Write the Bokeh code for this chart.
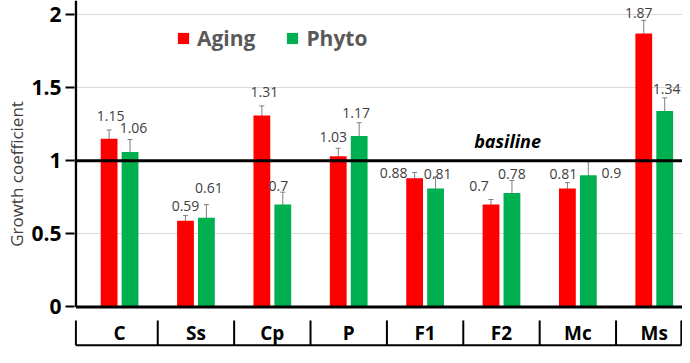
from bokeh.plotting import figure
from bokeh.models import (Range1d, FixedTicker, Span, Whisker, ColumnDataSource,
                          Label, Legend, LegendItem, TeeHead, CustomJSTickFormatter)
from bokeh.embed import file_html
from bokeh.resources import INLINE
from bokeh.core.properties import value

# ---------------- data ----------------
categories = ["C", "Ss", "Cp", "P", "F1", "F2", "Mc", "Ms"]
aging = [1.15, 0.59, 1.31, 1.03, 0.88, 0.70, 0.81, 1.87]
phyto = [1.06, 0.61, 0.70, 1.17, 0.81, 0.78, 0.90, 1.34]
aging_err = [0.06, 0.035, 0.065, 0.055, 0.04, 0.035, 0.04, 0.09]
phyto_err = [0.085, 0.09, 0.085, 0.09, 0.08, 0.085, 0.10, 0.09]
y_ticks = [0, 0.5, 1, 1.5, 2]
baseline_value = 1
series_names = ["Aging", "Phyto"]

# ---------------- layout / style ----------------
RED = "#FF0000"
GREEN = "#00B050"
FONT = "Open Sans"
# value-label nudges (screen px) relative to bar top, as in the source chart
aging_label_dx = [1.5, 0, 2.5, -5, -21, -12, -4, -5]
aging_label_dy = [-23, -15, -23, -19, -5, -19, -15, -21]
phyto_label_dx = [3.5, 2.5, -4.5, -3, 2, 0, 23, 2]
phyto_label_dy = [-23.5, -30, -19, -23, -15, -19, -2, -22]

x_start, x_end = -0.59, 7.37
y_start, y_end = -0.277, 2.0957
bar_off = 0.137
bar_w = 0.22

idx = list(range(len(categories)))
xa = [i - bar_off for i in idx]
xp = [i + bar_off for i in idx]

def fmt(v):
    return f"{v:g}"

src_a = ColumnDataSource(dict(
    x=xa, top=aging, upper=[v + e for v, e in zip(aging, aging_err)],
    lower=[v - e for v, e in zip(aging, aging_err)],
    label=[fmt(v) for v in aging], dx=aging_label_dx, dy=aging_label_dy))
src_p = ColumnDataSource(dict(
    x=xp, top=phyto, upper=[v + e for v, e in zip(phyto, phyto_err)],
    lower=[v - e for v, e in zip(phyto, phyto_err)],
    label=[fmt(v) for v in phyto], dx=phyto_label_dx, dy=phyto_label_dy))

p = figure(width=682, height=347, output_backend="svg", toolbar_location=None,
           x_range=Range1d(x_start, x_end), y_range=Range1d(y_start, y_end),
           x_axis_location=None, min_border_left=74, min_border_right=0,
           min_border_top=0, min_border_bottom=0)
p.outline_line_color = None
p.background_fill_color = "white"
p.xgrid.visible = False
p.ygrid.ticker = FixedTicker(ticks=[t for t in y_ticks if t not in (0, baseline_value)])
p.ygrid.grid_line_color = "#d9d9d9"
p.ygrid.grid_line_width = 1

ax = p.yaxis[0]
ax.ticker = FixedTicker(ticks=y_ticks)
ax.formatter = CustomJSTickFormatter(code="return tick.toString();")
ax.axis_line_color = None
ax.major_tick_line_color = "black"
ax.major_tick_line_width = 2
ax.major_tick_out = 9
ax.major_tick_in = 0
ax.minor_tick_line_color = None
ax.major_label_standoff = 4
ax.major_label_text_font = FONT
ax.major_label_text_font_size = "21px"
ax.major_label_text_font_style = "bold"
ax.major_label_text_color = "black"
ax.axis_label = "Growth coefficient"
ax.axis_label_text_font = FONT
ax.axis_label_text_font_size = "17px"
ax.axis_label_text_font_style = "normal"
ax.axis_label_text_color = "#404040"
ax.axis_label_standoff = 0

# bars
ra = p.vbar(x="x", top="top", width=bar_w, bottom=0, source=src_a,
            fill_color=RED, line_color=None)
rp = p.vbar(x="x", top="top", width=bar_w, bottom=0, source=src_p,
            fill_color=GREEN, line_color=None)

# error bars
for s in (src_a, src_p):
    p.add_layout(Whisker(base="x", upper="upper", lower="lower", source=s,
                         line_color="#7f7f7f", line_width=1,
                         upper_head=TeeHead(size=5, line_color="#7f7f7f", line_width=1),
                         lower_head=TeeHead(size=5, line_color="#7f7f7f", line_width=1)))

# value labels
for s in (src_a, src_p):
    p.text(x="x", y="top", text="label", x_offset="dx", y_offset="dy", source=s,
           text_align="center", text_baseline="middle",
           text_font=value(FONT), text_font_size="14px", text_color="#404040")

# axis lines
axis_x = x_start + 0.018
p.segment(x0=[axis_x], y0=[0], x1=[axis_x], y1=[y_end], line_color="black", line_width=2.5)
p.segment(x0=[axis_x], y0=[0], x1=[x_end], y1=[0], line_color="black", line_width=3)

# baseline
p.add_layout(Span(location=baseline_value, dimension="width", line_color="black", line_width=3))
p.add_layout(Label(x=5.08, y=1.138, text="basiline", text_align="center", text_baseline="middle",
                   text_font=FONT, text_font_size="18px", text_font_style="bold italic",
                   text_color="black"))

# category label row (table-style axis)
row_top, row_bot, row_mid = -0.092, -0.262, -0.18
div_x = [axis_x] + [i + 0.5 for i in idx[:-1]] + [x_end - 0.015]
p.segment(x0=div_x, y0=[row_top] * len(div_x), x1=div_x, y1=[row_bot] * len(div_x),
          line_color="black", line_width=2)
p.segment(x0=[axis_x], y0=[row_bot], x1=[x_end - 0.015], y1=[row_bot],
          line_color="black", line_width=2)
p.text(x=idx, y=[row_mid] * len(idx), text=categories, text_align="center",
       text_baseline="middle", text_font=value(FONT), text_font_size="19px",
       text_font_style="bold", text_color="black")

# legend
legend = Legend(items=[LegendItem(label=series_names[0], renderers=[ra]),
                       LegendItem(label=series_names[1], renderers=[rp])],
                orientation="horizontal", location=(102, 295), padding=0, margin=0,
                spacing=30, label_standoff=7, glyph_width=14, glyph_height=14,
                label_height=24, label_text_font=FONT, label_text_font_size="21px",
                label_text_font_style="bold", label_text_color="#595959",
                background_fill_alpha=0, border_line_color=None)
p.add_layout(legend)

open("out.html", "w").write(file_html(p, INLINE))
